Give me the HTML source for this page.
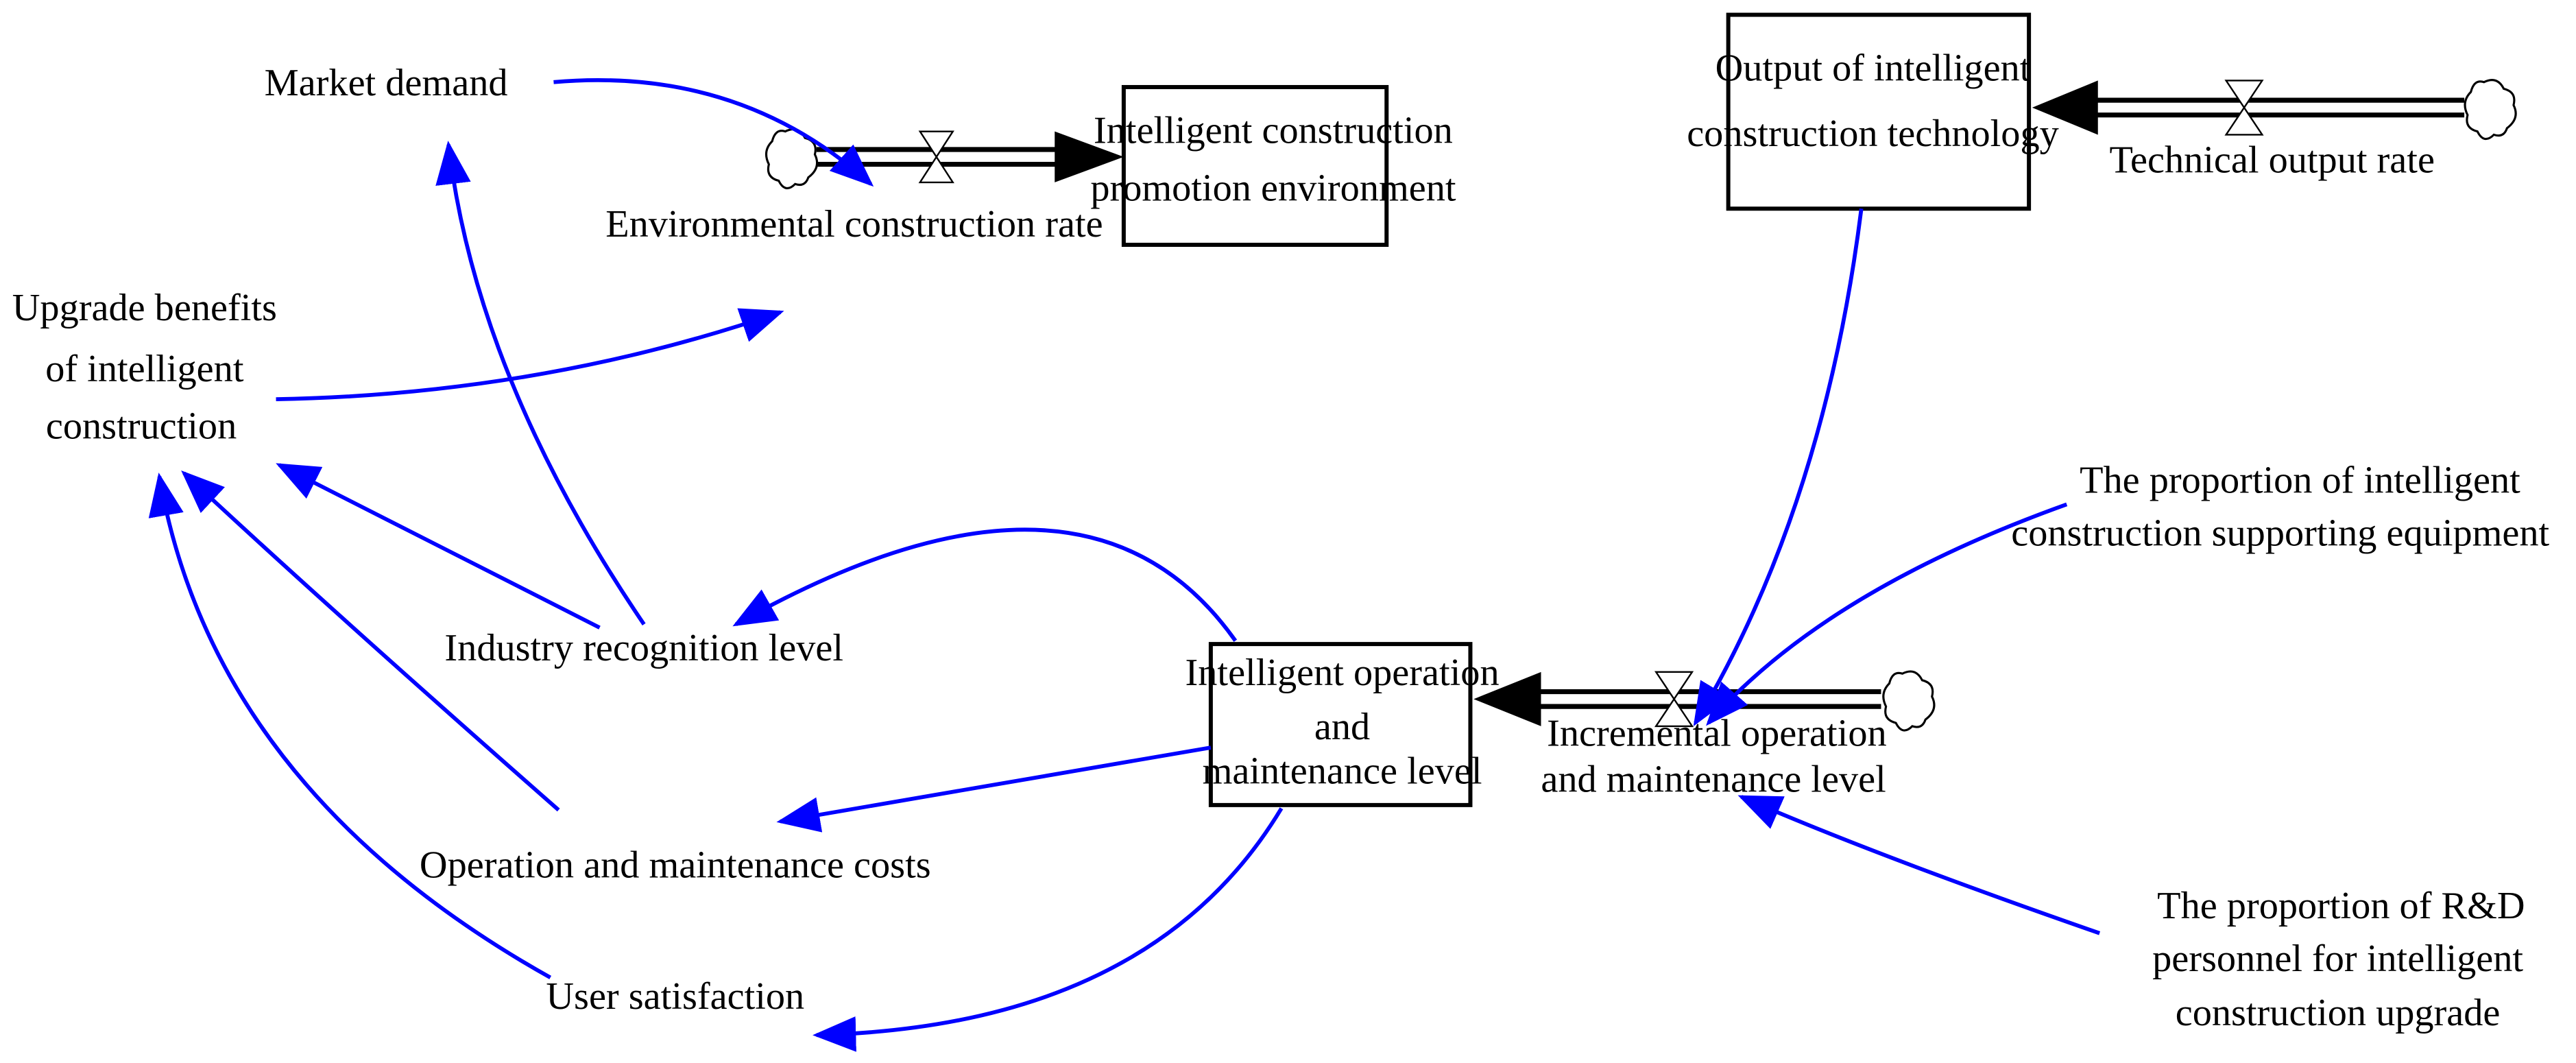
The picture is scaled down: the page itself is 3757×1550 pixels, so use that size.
<!DOCTYPE html>
<html><head><meta charset="utf-8"><style>
html,body{margin:0;padding:0;background:#fff;width:3757px;height:1550px;overflow:hidden}
svg{display:block}
text{font-family:"Liberation Serif",serif;font-size:23.5px;fill:#000;text-anchor:middle}
.b{fill:none;stroke:#0000ff;stroke-width:2.4}
</style></head><body>
<svg width="3757" height="1550" viewBox="0 0 1568 647" preserveAspectRatio="none" xmlns="http://www.w3.org/2000/svg">
<defs>
<marker id="a" markerWidth="11" markerHeight="9" refX="10" refY="4.5" orient="auto" markerUnits="strokeWidth" viewBox="0 0 11 9">
<path d="M0,0 L11,4.5 L0,9 Z" fill="#0000ff"/></marker>
</defs>
<rect x="684" y="53" width="160" height="96" fill="none" stroke="#000" stroke-width="2.5"/>
<rect x="1052" y="9" width="183" height="118" fill="none" stroke="#000" stroke-width="2.5"/>
<rect x="737" y="392" width="158" height="98" fill="none" stroke="#000" stroke-width="2.5"/>
<line x1="497" y1="91" x2="645" y2="91" stroke="#000" stroke-width="3"/>
<line x1="497" y1="100" x2="645" y2="100" stroke="#000" stroke-width="3"/>
<path d="M642,80 L684,95.5 L642,111 Z" fill="#000"/>
<path d="M560,80 L580,80 L560,111 L580,111 Z" fill="#fff" stroke="#000" stroke-width="1"/>
<path d="M478,80 q8,-4 12,4 q8,2 6,10 q4,8 -4,14 q-2,6 -8,4 q-6,6 -10,-2 q-8,-2 -6,-10 q-4,-8 2,-14 q2,-8 8,-6 Z" fill="#fff" stroke="#000" stroke-width="1.3"/>
<line x1="1275" y1="61" x2="1500" y2="61" stroke="#000" stroke-width="3"/>
<line x1="1275" y1="70" x2="1500" y2="70" stroke="#000" stroke-width="3"/>
<path d="M1277,49 L1237,65.5 L1277,82 Z" fill="#000"/>
<path d="M1355,49 L1377,49 L1355,82 L1377,82 Z" fill="#fff" stroke="#000" stroke-width="1"/>
<path d="M1512,50 q8,-4 12,4 q8,2 6,10 q4,8 -4,14 q-2,6 -8,4 q-6,6 -10,-2 q-8,-2 -6,-10 q-4,-8 2,-14 q2,-8 8,-6 Z" fill="#fff" stroke="#000" stroke-width="1.3"/>
<line x1="935" y1="421" x2="1145" y2="421" stroke="#000" stroke-width="3"/>
<line x1="935" y1="430" x2="1145" y2="430" stroke="#000" stroke-width="3"/>
<path d="M938,409 L897,425.5 L938,442 Z" fill="#000"/>
<path d="M1008,409 L1030,409 L1008,442 L1030,442 Z" fill="#fff" stroke="#000" stroke-width="1"/>
<path d="M1158,410 q8,-4 12,4 q8,2 6,10 q4,8 -4,14 q-2,6 -8,4 q-6,6 -10,-2 q-8,-2 -6,-10 q-4,-8 2,-14 q2,-8 8,-6 Z" fill="#fff" stroke="#000" stroke-width="1.3"/>
<path class="b" marker-end="url(#a)" d="M337,50 Q450,40 530,112"/>
<path class="b" marker-end="url(#a)" d="M392,380 Q290,230 273,88"/>
<path class="b" marker-end="url(#a)" d="M365,382 L170,283"/>
<path class="b" marker-end="url(#a)" d="M340,493 Q200,370 112,288"/>
<path class="b" marker-end="url(#a)" d="M335,595 Q130,480 97,290"/>
<path class="b" marker-end="url(#a)" d="M168,243 Q330,240 475,190"/>
<path class="b" marker-end="url(#a)" d="M752,390 Q660,260 448,380"/>
<path class="b" marker-end="url(#a)" d="M737,455 L475,500"/>
<path class="b" marker-end="url(#a)" d="M780,492 Q700,625 497,630"/>
<path class="b" marker-end="url(#a)" d="M1133,127 Q1110,310 1032,440"/>
<path class="b" marker-end="url(#a)" d="M1258,307 Q1110,360 1040,440"/>
<path class="b" marker-end="url(#a)" d="M1278,568 Q1140,520 1060,485"/>
<text x="235" y="58">Market demand</text>
<text x="775" y="87">Intelligent construction</text>
<text x="775" y="122">promotion environment</text>
<text x="520" y="144">Environmental construction rate</text>
<text x="1140" y="49">Output of intelligent</text>
<text x="1140" y="89">construction technology</text>
<text x="1383" y="105">Technical output rate</text>
<text x="88" y="195">Upgrade benefits</text>
<text x="88" y="232">of intelligent</text>
<text x="86" y="267">construction</text>
<text x="392" y="402">Industry recognition level</text>
<text x="817" y="417">Intelligent operation</text>
<text x="817" y="450">and</text>
<text x="817" y="477">maintenance level</text>
<text x="1045" y="454">Incremental operation</text>
<text x="1043" y="482">and maintenance level</text>
<text x="1400" y="300">The proportion of intelligent</text>
<text x="1388" y="332">construction supporting equipment</text>
<text x="411" y="534">Operation and maintenance costs</text>
<text x="411" y="614">User satisfaction</text>
<text x="1425" y="559">The proportion of R&amp;D</text>
<text x="1423" y="591">personnel for intelligent</text>
<text x="1423" y="624">construction upgrade</text>
</svg>
</body></html>
